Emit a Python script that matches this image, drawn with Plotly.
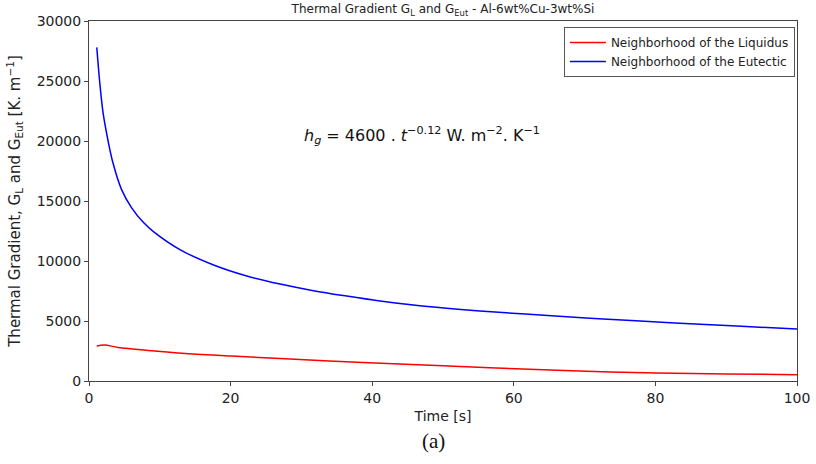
import plotly.graph_objects as go

# Time [s] and thermal gradient [K/m] near the eutectic
time_eut = [1.1, 1.5, 2.0, 2.7, 3.4, 4.6, 6.0, 7.7, 9.1, 12.9, 17.6, 22.3, 27.0,
            31.7, 36.4, 41.1, 45.8, 50.5, 55.2, 63.2, 72.6, 82.1, 91.5, 100.0]
g_eut = [27800, 25000, 22300, 20000, 18140, 15950, 14450, 13200, 12450, 10930,
         9670, 8750, 8080, 7530, 7080, 6670, 6330, 6060, 5830, 5520, 5170, 4860,
         4580, 4330]

# Time [s] and thermal gradient [K/m] near the liquidus
time_liq = [1.1, 2.2, 4.1, 8.8, 13.6, 20.1, 27.7, 37.1, 46.5, 50.0, 60.3, 70.3,
            80.3, 90.0, 100.0]
g_liq = [2920, 3000, 2800, 2530, 2300, 2080, 1860, 1580, 1360, 1270, 1020, 810,
         670, 580, 530]

x_ticks = [0, 20, 40, 60, 80, 100]
y_ticks = [0, 5000, 10000, 15000, 20000, 25000, 30000]
y_tick_text = [str(v) for v in y_ticks]

FONT = "DejaVu Sans"
AX = "#444444"

fig = go.Figure()
fig.add_trace(go.Scatter(x=time_liq, y=g_liq, mode="lines",
                         name="Neighborhood of the Liquidus",
                         line=dict(color="#ff0000", width=1.5, shape="spline", smoothing=1.0)))
fig.add_trace(go.Scatter(x=time_eut, y=g_eut, mode="lines",
                         name="Neighborhood of the Eutectic",
                         line=dict(color="#0000ff", width=1.5, shape="spline", smoothing=1.0)))

axis_common = dict(showline=True, linecolor=AX, linewidth=1, mirror=True,
                   ticks="outside", ticklen=4, tickcolor=AX, showgrid=False,
                   zeroline=False, automargin=False,
                   tickfont=dict(family=FONT, size=14, color="#222"))

fig.update_xaxes(range=[0, 100], tickvals=x_ticks,
                 title=dict(text="Time [s]", font=dict(family=FONT, size=14, color="#222"),
                            standoff=6),
                 **axis_common)
fig.update_yaxes(range=[0, 30000], tickvals=y_ticks, ticktext=y_tick_text,
                 title=dict(text="Thermal Gradient, G<sub>L</sub> and G<sub>Eut</sub> [K. m<sup>−1</sup>]",
                            font=dict(family=FONT, size=15, color="#222"), standoff=12),
                 **axis_common)

fig.update_layout(
    width=816, height=464,
    margin=dict(l=89, r=19, t=21, b=83),
    paper_bgcolor="white", plot_bgcolor="white",
    font=dict(family=FONT, color="#222"),
    title=dict(text="Thermal Gradient G<sub>L</sub> and G<sub>Eut</sub> - Al-6wt%Cu-3wt%Si",
               font=dict(family=FONT, size=12, color="#222"),
               x=(89 + 797) / 2 / 816, xanchor="center", y=0.99, yanchor="top"),
    legend=dict(x=0.997, y=0.983, xanchor="right", yanchor="top",
                bgcolor="white", bordercolor="#555", borderwidth=1,
                font=dict(family=FONT, size=12, color="#222"),
                itemwidth=36, tracegroupgap=0),
    showlegend=True,
)

fig.add_annotation(
    text="<i>h</i><sub><i>g</i></sub> = 4600 . <i>t</i><sup>−0.12</sup> W. m<sup>−2</sup>. K<sup>−1</sup>",
    xref="paper", yref="paper", x=(302 - 89) / 708, y=(381 - 135) / 360,
    xanchor="left", yanchor="middle", showarrow=False,
    font=dict(family=FONT, size=16, color="#111"))

fig.add_annotation(
    text="(a)", xref="paper", yref="paper", x=(433 - 89) / 708, y=(381 - 441) / 360,
    xanchor="center", yanchor="middle", showarrow=False,
    font=dict(family="Liberation Serif", size=21, color="#111"))

fig.write_html("out.html")
